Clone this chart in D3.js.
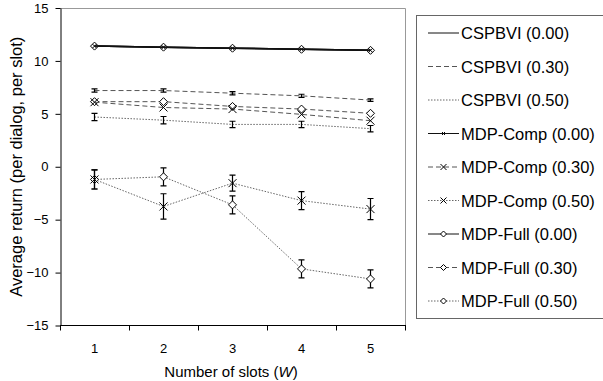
<!DOCTYPE html>
<html>
<head>
<meta charset="utf-8">
<script src="https://cdn.jsdelivr.net/npm/d3@7"></script>
<style>
  body { margin: 0; background: #fff; }
  svg { font-family: "Liberation Sans", Arial, sans-serif; }
</style>
</head>
<body>
<div id="chart"></div>
<script>
// slots on the x axis
const slots = [1, 2, 3, 4, 5];
const yTicks = [-15, -10, -5, 0, 5, 10, 15];

// series values (mean return) and error half-widths
const cspbvi00 = [11.4, 11.3, 11.2, 11.1, 11.0];
const cspbvi30 = [7.2, 7.2, 6.95, 6.7, 6.3];
const cspbvi30Err = [0.15, 0.15, 0.15, 0.15, 0.12];
const cspbvi50 = [4.7, 4.4, 4.0, 4.0, 3.6];
const cspbvi50Err = [0.35, 0.35, 0.3, 0.3, 0.3];
const mdpComp00 = [11.4, 11.3, 11.2, 11.1, 11.0];
const mdpComp30 = [6.1, 5.6, 5.45, 4.95, 4.35];
const mdpComp50 = [-1.2, -3.75, -1.55, -3.2, -4.0];
const mdpComp50Err = [0.9, 1.2, 0.75, 0.85, 1.0];
const mdpFull00 = [11.4, 11.3, 11.2, 11.1, 11.0];
const mdpFull30 = [6.15, 6.15, 5.7, 5.45, 5.05];
const mdpFull50 = [-1.2, -0.95, -3.6, -9.65, -10.6];
const mdpFull50Err = [0.9, 0.85, 0.85, 0.85, 0.85];

const seriesNames = ['CSPBVI (0.00)', 'CSPBVI (0.30)', 'CSPBVI (0.50)',
  'MDP-Comp (0.00)', 'MDP-Comp (0.30)', 'MDP-Comp (0.50)',
  'MDP-Full (0.00)', 'MDP-Full (0.30)', 'MDP-Full (0.50)'];

const styles = {
  solid: { dash: null, stroke: '#111', width: 1.5 },
  dashed: { dash: '5,3', stroke: '#555', width: 1 },
  dotted: { dash: '1.5,1.5', stroke: '#666', width: 1 }
};

const series = [
  { name: seriesNames[0], values: cspbvi00, style: 'solid', marker: null },
  { name: seriesNames[1], values: cspbvi30, err: cspbvi30Err, style: 'dashed', marker: null },
  { name: seriesNames[2], values: cspbvi50, err: cspbvi50Err, style: 'dotted', marker: null },
  { name: seriesNames[3], values: mdpComp00, style: 'solid', marker: 'smallx' },
  { name: seriesNames[4], values: mdpComp30, style: 'dashed', marker: 'x' },
  { name: seriesNames[5], values: mdpComp50, err: mdpComp50Err, style: 'dotted', marker: 'x' },
  { name: seriesNames[6], values: mdpFull00, style: 'solid', marker: 'diamond' },
  { name: seriesNames[7], values: mdpFull30, style: 'dashed', marker: 'diamond' },
  { name: seriesNames[8], values: mdpFull50, err: mdpFull50Err, style: 'dotted', marker: 'diamond' }
];

const width = 603, height = 381;
const margin = { top: 8, right: 198, bottom: 55, left: 60 };

const svg = d3.select('#chart').append('svg')
  .attr('width', width)
  .attr('height', height);

const x = d3.scaleBand()
  .domain(slots)
  .range([margin.left, width - margin.right]);

const y = d3.scaleLinear()
  .domain([-15, 15])
  .range([height - margin.bottom - 0.5, margin.top]);

const cx = d => x(d) + x.bandwidth() / 2;

// frame (top and right in grey)
svg.append('path')
  .attr('d', `M${margin.left},${margin.top + 0.5}H${width - margin.right + 0.5}V${height - margin.bottom}`)
  .attr('fill', 'none')
  .attr('stroke', '#999');

// y axis
const yAxis = svg.append('g')
  .attr('transform', `translate(${margin.left + 0.5},0)`)
  .call(d3.axisLeft(y).tickValues(yTicks).tickSize(5).tickPadding(7).tickSizeOuter(0));
yAxis.select('.domain').attr('stroke', '#000');
yAxis.selectAll('text').style('font-size', '13px').attr('fill', '#000');

// x axis, ticks on band edges
const xAxisY = y(-15);
const xAxis = svg.append('g').attr('transform', `translate(0,${xAxisY})`);
xAxis.append('line')
  .attr('x1', margin.left).attr('x2', width - margin.right + 1)
  .attr('stroke', '#000');
const edges = slots.map(d => x(d)).concat([x(slots[slots.length - 1]) + x.bandwidth()]);
xAxis.selectAll('.tk').data(edges).enter().append('line')
  .attr('x1', d => Math.round(d) + 0.5).attr('x2', d => Math.round(d) + 0.5)
  .attr('y1', 0).attr('y2', 5)
  .attr('stroke', '#000');
xAxis.selectAll('.lbl').data(slots).enter().append('text')
  .attr('x', d => cx(d))
  .attr('y', 27)
  .attr('text-anchor', 'middle')
  .style('font-size', '13px')
  .text(d => d);

// axis titles
const xt = svg.append('text')
  .attr('x', 231)
  .attr('y', 377)
  .attr('text-anchor', 'middle')
  .style('font-size', '15px');
xt.append('tspan').text('Number of slots (');
xt.append('tspan').style('font-style', 'italic').text('W');
xt.append('tspan').text(')');

svg.append('text')
  .attr('transform', `translate(22,${y(0)}) rotate(-90)`)
  .attr('text-anchor', 'middle')
  .style('font-size', '16.5px')
  .text('Average return (per dialog, per slot)');

function drawMarker(g, type, px, py, r) {
  if (type === 'diamond') {
    g.append('path')
      .attr('d', `M${px},${py - r}L${px + r},${py}L${px},${py + r}L${px - r},${py}Z`)
      .attr('fill', '#fff').attr('stroke', '#000').attr('stroke-width', 1);
  } else if (type === 'x' || type === 'smallx') {
    const s = type === 'x' ? r : r / 2;
    g.append('path')
      .attr('d', `M${px - s},${py - s}L${px + s},${py + s}M${px - s},${py + s}L${px + s},${py - s}`)
      .attr('fill', 'none').attr('stroke', '#000').attr('stroke-width', 1);
  }
}

const line = d3.line().x(d => cx(d[0])).y(d => y(d[1]));
const plot = svg.append('g');

// draw from bottom of legend order upward so solid lines land on top
series.slice().reverse().forEach(s => {
  const st = styles[s.style];
  const pts = slots.map((d, i) => [d, s.values[i]]);
  plot.append('path')
    .datum(pts)
    .attr('d', line)
    .attr('fill', 'none')
    .attr('stroke', st.stroke)
    .attr('stroke-width', st.width)
    .attr('stroke-dasharray', st.dash);
  if (s.err) {
    pts.forEach((p, i) => {
      const px = cx(p[0]);
      const y1 = y(p[1] + s.err[i]), y2 = y(p[1] - s.err[i]);
      plot.append('path')
        .attr('d', `M${px},${y1}V${y2}M${px - 3},${y1}H${px + 3}M${px - 3},${y2}H${px + 3}`)
        .attr('fill', 'none').attr('stroke', '#000').attr('stroke-width', 1.2);
    });
  }
  pts.forEach(p => drawMarker(plot, s.marker, cx(p[0]), y(p[1]), 4));
});

// legend
const legX = 416, legY = 15, rowH = 33.5;
svg.append('rect')
  .attr('x', legX + 0.5).attr('y', legY + 0.5)
  .attr('width', 200).attr('height', 303)
  .attr('fill', '#fff').attr('stroke', '#666');

const leg = svg.append('g');
series.forEach((s, i) => {
  const ly = legY + 18 + i * rowH;
  const st = styles[s.style];
  leg.append('line')
    .attr('x1', legX + 12).attr('x2', legX + 43)
    .attr('y1', ly).attr('y2', ly)
    .attr('stroke', st.stroke)
    .attr('stroke-width', 1)
    .attr('stroke-dasharray', st.dash);
  drawMarker(leg, s.marker, legX + 27.5, ly, 3);
  leg.append('text')
    .attr('x', legX + 45)
    .attr('y', ly + 6)
    .style('font-size', '16.5px')
    .text(s.name);
});
</script>
</body>
</html>
